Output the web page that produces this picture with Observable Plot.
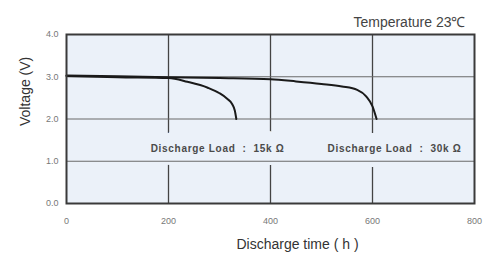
<!DOCTYPE html>
<html>
<head>
<meta charset="utf-8">
<script src="https://cdn.jsdelivr.net/npm/d3@7"></script>
<script src="https://cdn.jsdelivr.net/npm/@observablehq/plot@0.6"></script>
<style>
  html, body { margin: 0; padding: 0; background: #fff; }
</style>
</head>
<body>
<div id="chart"></div>
<script>
const title = "Temperature 23℃";
const xLabel = "Discharge time ( h )";
const yLabel = "Voltage (V)";
const xTicks = [0, 200, 400, 600, 800];
const yTicks = [0, 1, 2, 3, 4];

const load15kHours = [0, 100, 200, 237, 277, 300, 315, 325, 330, 333];
const load15kVolts = [3.02, 2.99, 2.97, 2.88, 2.74, 2.61, 2.48, 2.35, 2.2, 2.0];
const load30kHours = [0, 100, 200, 300, 400, 450, 500, 540, 570, 588, 600, 608];
const load30kVolts = [3.03, 3.01, 2.99, 2.97, 2.94, 2.89, 2.83, 2.77, 2.69, 2.53, 2.3, 2.0];

const seriesNames = ["15k", "30k"];
const loadLabels = ["Discharge Load  :  15k Ω", "Discharge Load  :  30k Ω"];
const labelHours = [165, 512];
const labelVolts = [1.3, 1.3];

const lineData = [
  ...load15kHours.map((h, i) => ({series: seriesNames[0], h, v: load15kVolts[i]})),
  ...load30kHours.map((h, i) => ({series: seriesNames[1], h, v: load30kVolts[i]}))
];
const labelData = loadLabels.map((t, i) => ({t, h: labelHours[i], v: labelVolts[i]}));

const bg = "#ebf1f9";

const chart = Plot.plot({
  width: 492,
  height: 258,
  marginLeft: 66,
  marginRight: 18,
  marginTop: 34,
  marginBottom: 55,
  style: {background: "#fff", fontFamily: "'Liberation Sans', Arial, sans-serif", overflow: "visible"},
  x: {domain: [0, 800], ticks: xTicks},
  y: {domain: [0, 4], ticks: yTicks, tickFormat: d3.format(".1f")},
  marks: [
    Plot.frame({fill: bg}),
    Plot.ruleX(xTicks.slice(1, -1), {stroke: "#444", strokeWidth: 1.3}),
    Plot.text(labelData, {x: "h", y: "v", text: "t", textAnchor: "start", fontSize: 10, fontWeight: "bold",
      fill: bg, stroke: bg, strokeWidth: 26}),
    Plot.ruleY(yTicks.slice(1, -1), {stroke: "#6a6a6a", strokeWidth: 1.2}),
    Plot.line(lineData, {x: "h", y: "v", z: "series", stroke: "#1a1a1a", strokeWidth: 2, curve: "monotone-x"}),
    Plot.text(labelData, {x: "h", y: "v", text: "t", textAnchor: "start", fontSize: 10, fontWeight: "bold", fill: "#4a4a4a"}),
    Plot.frame({stroke: "#3a3a3a", strokeWidth: 2}),
    Plot.axisX({ticks: xTicks, tickSize: 0, tickPadding: 14, fontSize: 9, color: "#777", label: null}),
    Plot.axisY({ticks: yTicks, tickSize: 0, tickPadding: 8, fontSize: 9, color: "#777", label: null, tickFormat: d3.format(".1f")}),
    Plot.text([xLabel], {frameAnchor: "bottom", dx: 27, dy: 45, fontSize: 14, fill: "#333"}),
    Plot.text([yLabel], {frameAnchor: "left", rotate: -90, dx: -41, dy: 7, fontSize: 14, fill: "#333"}),
    Plot.text([title], {frameAnchor: "top-right", textAnchor: "end", dx: -9, dy: -17, fontSize: 14, fill: "#444"})
  ]
});
d3.select(chart).selectAll("text")
  .filter(function() { return loadLabels.includes(this.textContent); })
  .style("letter-spacing", "0.7px");
document.getElementById("chart").appendChild(chart);
</script>
</body>
</html>
